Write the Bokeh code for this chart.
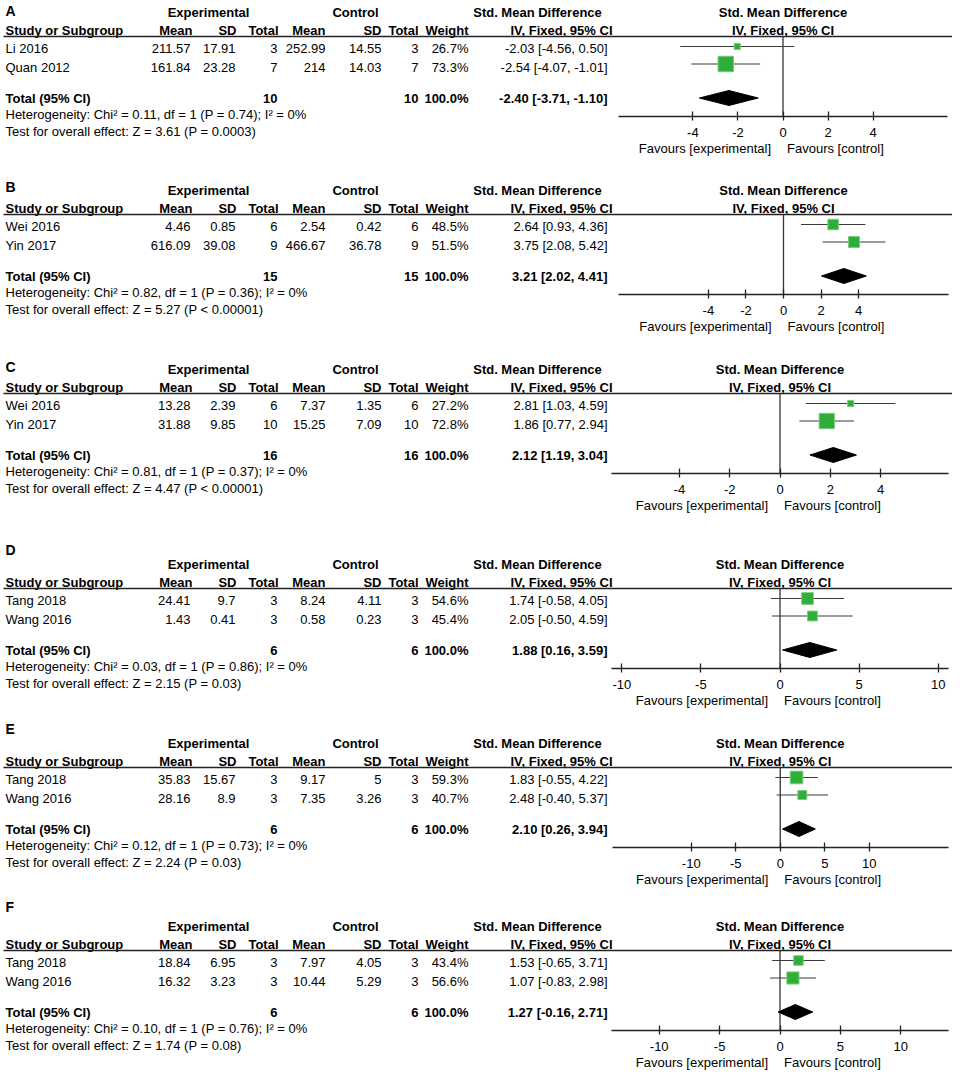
from bokeh.plotting import figure
from bokeh.models import Range1d, LinearAxis, FixedTicker
from bokeh.core.properties import value
from bokeh.embed import file_html
from bokeh.resources import INLINE

# ---------------- data ----------------
A_study = ["Li 2016", "Quan 2012"]
A_exp_mean = [211.57, 161.84]
A_exp_sd = [17.91, 23.28]
A_exp_n = [3, 7]
A_ctl_mean = [252.99, 214]
A_ctl_sd = [14.55, 14.03]
A_ctl_n = [3, 7]
A_weight = [26.7, 73.3]
A_smd = [-2.03, -2.54]
A_lo = [-4.56, -4.07]
A_hi = [0.50, -1.01]
A_total = [-2.40, -3.71, -1.10]
A_het = "Heterogeneity: Chi\u00b2 = 0.11, df = 1 (P = 0.74); I\u00b2 = 0%"
A_test = "Test for overall effect: Z = 3.61 (P = 0.0003)"
A_ticks = [-4, -2, 0, 2, 4]

B_study = ["Wei 2016", "Yin 2017"]
B_exp_mean = [4.46, 616.09]
B_exp_sd = [0.85, 39.08]
B_exp_n = [6, 9]
B_ctl_mean = [2.54, 466.67]
B_ctl_sd = [0.42, 36.78]
B_ctl_n = [6, 9]
B_weight = [48.5, 51.5]
B_smd = [2.64, 3.75]
B_lo = [0.93, 2.08]
B_hi = [4.36, 5.42]
B_total = [3.21, 2.02, 4.41]
B_het = "Heterogeneity: Chi\u00b2 = 0.82, df = 1 (P = 0.36); I\u00b2 = 0%"
B_test = "Test for overall effect: Z = 5.27 (P < 0.00001)"
B_ticks = [-4, -2, 0, 2, 4]

C_study = ["Wei 2016", "Yin 2017"]
C_exp_mean = [13.28, 31.88]
C_exp_sd = [2.39, 9.85]
C_exp_n = [6, 10]
C_ctl_mean = [7.37, 15.25]
C_ctl_sd = [1.35, 7.09]
C_ctl_n = [6, 10]
C_weight = [27.2, 72.8]
C_smd = [2.81, 1.86]
C_lo = [1.03, 0.77]
C_hi = [4.59, 2.94]
C_total = [2.12, 1.19, 3.04]
C_het = "Heterogeneity: Chi\u00b2 = 0.81, df = 1 (P = 0.37); I\u00b2 = 0%"
C_test = "Test for overall effect: Z = 4.47 (P < 0.00001)"
C_ticks = [-4, -2, 0, 2, 4]

D_study = ["Tang 2018", "Wang 2016"]
D_exp_mean = [24.41, 1.43]
D_exp_sd = [9.7, 0.41]
D_exp_n = [3, 3]
D_ctl_mean = [8.24, 0.58]
D_ctl_sd = [4.11, 0.23]
D_ctl_n = [3, 3]
D_weight = [54.6, 45.4]
D_smd = [1.74, 2.05]
D_lo = [-0.58, -0.50]
D_hi = [4.05, 4.59]
D_total = [1.88, 0.16, 3.59]
D_het = "Heterogeneity: Chi\u00b2 = 0.03, df = 1 (P = 0.86); I\u00b2 = 0%"
D_test = "Test for overall effect: Z = 2.15 (P = 0.03)"
D_ticks = [-10, -5, 0, 5, 10]

E_study = ["Tang 2018", "Wang 2016"]
E_exp_mean = [35.83, 28.16]
E_exp_sd = [15.67, 8.9]
E_exp_n = [3, 3]
E_ctl_mean = [9.17, 7.35]
E_ctl_sd = [5, 3.26]
E_ctl_n = [3, 3]
E_weight = [59.3, 40.7]
E_smd = [1.83, 2.48]
E_lo = [-0.55, -0.40]
E_hi = [4.22, 5.37]
E_total = [2.10, 0.26, 3.94]
E_het = "Heterogeneity: Chi\u00b2 = 0.12, df = 1 (P = 0.73); I\u00b2 = 0%"
E_test = "Test for overall effect: Z = 2.24 (P = 0.03)"
E_ticks = [-10, -5, 0, 5, 10]

F_study = ["Tang 2018", "Wang 2016"]
F_exp_mean = [18.84, 16.32]
F_exp_sd = [6.95, 3.23]
F_exp_n = [3, 3]
F_ctl_mean = [7.97, 10.44]
F_ctl_sd = [4.05, 5.29]
F_ctl_n = [3, 3]
F_weight = [43.4, 56.6]
F_smd = [1.53, 1.07]
F_lo = [-0.65, -0.83]
F_hi = [3.71, 2.98]
F_total = [1.27, -0.16, 2.71]
F_het = "Heterogeneity: Chi\u00b2 = 0.10, df = 1 (P = 0.76); I\u00b2 = 0%"
F_test = "Test for overall effect: Z = 1.74 (P = 0.08)"
F_ticks = [-10, -5, 0, 5, 10]

G = globals()
KEYS = ["A", "B", "C", "D", "E", "F"]
FIELDS = ["study", "exp_mean", "exp_sd", "exp_n", "ctl_mean", "ctl_sd", "ctl_n",
          "weight", "smd", "lo", "hi", "total", "het", "test", "ticks"]
panels = {k: {f: G[f"{k}_{f}"] for f in FIELDS} for k in KEYS}

# ---------------- layout (picture pixel space) ----------------
W, H = 952, 1075
X0, X1 = 0, W
Y0, Y1 = 0, H
LINE_Y = {"A": 36, "B": 214, "C": 393, "D": 588, "E": 767, "F": 950}
LETTER_Y = {"A": 10, "B": 186, "C": 366, "D": 549, "E": 728, "F": 906}
AXIS_PX = {"A": (618, 947), "B": (618, 948), "C": (611, 948),
           "D": (611, 948), "E": (611.5, 948), "F": (611, 948)}
AXIS_LIM = {"A": 7.3, "B": 8.78, "C": 6.7, "D": 10.65, "E": 18.9, "F": 13.95}

FONT = value("Liberation Sans")
FS = "13px"
BLACK = "#000000"
XL = 5  # left text edge

ranges = {}
for k in KEYS:
    lo, hi = -AXIS_LIM[k], AXIS_LIM[k]
    xl, xr = AXIS_PX[k]
    s = (xr - xl) / (hi - lo)
    ranges[k] = Range1d(lo + (X0 - xl) / s, hi + (X1 - xr) / s)

p = figure(width=W, height=H, x_range=Range1d(X0, X1), y_range=Range1d(Y1, Y0),
           output_backend="svg", toolbar_location=None,
           x_axis_location=None, y_axis_location=None, min_border=0)
p.extra_x_ranges = ranges
p.outline_line_color = None
p.background_fill_color = "white"
p.border_fill_color = "white"
for g in p.grid:
    g.visible = False


def txt(xs, ys, texts, align="left", bold=False, size=FS, rng=None, xoff=0):
    kw = dict(x=xs, y=ys, text=texts, text_align=align, text_baseline="middle",
              text_font=FONT, text_font_size=size,
              text_font_style="bold" if bold else "normal",
              text_color=BLACK, x_offset=xoff)
    if rng is not None:
        kw["x_range_name"] = rng
    p.text(**kw)


def g_(v):
    return f"{v:g}"


COL = dict(exp_mean=190, exp_sd=235, exp_n=277, ctl_mean=325, ctl_sd=381,
           ctl_n=418, weight=468, ci=607)
HDR2 = [("Mean", 192), ("SD", 236), ("Total", 278), ("Mean", 325), ("SD", 381),
        ("Total", 418), ("Weight", 468), ("IV, Fixed, 95% CI", 612)]

for k in KEYS:
    d = panels[k]
    L = LINE_Y[k]
    n = len(d["study"])
    row_txt = [L + 12 + 18.5 * i for i in range(n)]
    row_mark = [L + 10 + 17.5 * i for i in range(n)]
    y_tot = L + 62
    y_axis = L + 79.5

    # panel letter
    txt([XL], [LETTER_Y[k]], [k], bold=True, size="14px")
    # header row 1
    txt([208], [L - 24], ["Experimental"], align="center", bold=True)
    txt([355], [L - 24], ["Control"], align="center", bold=True)
    txt([537], [L - 24], ["Std. Mean Difference"], align="center", bold=True)
    txt([0], [L - 24], ["Std. Mean Difference"], align="center", bold=True, rng=k)
    # header row 2
    txt([XL], [L - 6], ["Study or Subgroup"], bold=True)
    txt([x for _, x in HDR2], [L - 6] * len(HDR2), [t for t, _ in HDR2],
        align="right", bold=True)
    txt([0], [L - 6], ["IV, Fixed, 95% CI"], align="center", bold=True, rng=k)
    # header rule
    p.segment(x0=[3], y0=[L], x1=[W], y1=[L], line_color="#222222", line_width=1.3)

    # study rows
    txt([XL] * n, row_txt, d["study"])
    txt([COL["exp_mean"]] * n, row_txt, [g_(v) for v in d["exp_mean"]], align="right")
    txt([COL["exp_sd"]] * n, row_txt, [g_(v) for v in d["exp_sd"]], align="right")
    txt([COL["exp_n"]] * n, row_txt, [str(v) for v in d["exp_n"]], align="right")
    txt([COL["ctl_mean"]] * n, row_txt, [g_(v) for v in d["ctl_mean"]], align="right")
    txt([COL["ctl_sd"]] * n, row_txt, [g_(v) for v in d["ctl_sd"]], align="right")
    txt([COL["ctl_n"]] * n, row_txt, [str(v) for v in d["ctl_n"]], align="right")
    txt([COL["weight"]] * n, row_txt, [f"{v:.1f}%" for v in d["weight"]], align="right")
    txt([COL["ci"]] * n, row_txt,
        [f"{e:.2f} [{a:.2f}, {b:.2f}]" for e, a, b in zip(d["smd"], d["lo"], d["hi"])],
        align="right")

    # total row
    te, tl, th = d["total"]
    txt([XL], [y_tot], ["Total (95% CI)"], bold=True)
    txt([COL["exp_n"]], [y_tot], [str(sum(d["exp_n"]))], align="right", bold=True)
    txt([COL["ctl_n"]], [y_tot], [str(sum(d["ctl_n"]))], align="right", bold=True)
    txt([COL["weight"]], [y_tot], [f"{sum(d['weight']):.1f}%"], align="right", bold=True)
    txt([COL["ci"]], [y_tot], [f"{te:.2f} [{tl:.2f}, {th:.2f}]"], align="right", bold=True)
    txt([XL], [L + 78], [d["het"]])
    txt([XL], [L + 95], [d["test"]])

    # forest: zero line
    p.segment(x0=[0], y0=[L], x1=[0], y1=[y_axis], x_range_name=k,
              line_color="#333333", line_width=1.3)
    # CI whiskers
    p.segment(x0=d["lo"], y0=row_mark, x1=d["hi"], y1=row_mark, x_range_name=k,
              line_color="#3a3a3a", line_width=1.2)
    # squares (size scales with weight)
    p.scatter(x=d["smd"], y=row_mark, marker="square",
              size=[0.2 * w + 0.8 for w in d["weight"]], x_range_name=k,
              fill_color="#2fae3a", line_color="#7ccc7c", line_width=1)
    # diamond
    yd = L + 61.5
    p.patches(xs=[[tl, te, th, te]], ys=[[yd, yd - 7.5, yd, yd + 7.5]], x_range_name=k,
              fill_color="black", line_color="black", line_width=1)

    # axis
    ax = LinearAxis(x_range_name=k, fixed_location=y_axis,
                    bounds=(-AXIS_LIM[k], AXIS_LIM[k]),
                    ticker=FixedTicker(ticks=d["ticks"]),
                    major_label_overrides={t: str(t) for t in d["ticks"]},
                    major_tick_in=5, major_tick_out=4,
                    minor_tick_line_color=None,
                    major_label_standoff=8,
                    axis_line_color="#222222", axis_line_width=1.3,
                    major_tick_line_color="#222222", major_tick_line_width=1.3,
                    major_label_text_font="Liberation Sans",
                    major_label_text_font_size=FS,
                    major_label_text_color=BLACK)
    p.add_layout(ax, "below")

    # favours labels
    txt([0], [y_axis + 32], ["Favours [experimental]"], align="right", rng=k, xoff=-12)
    txt([0], [y_axis + 32], ["Favours [control]"], align="left", rng=k, xoff=4)

open("out.html", "w").write(file_html(p, INLINE))
